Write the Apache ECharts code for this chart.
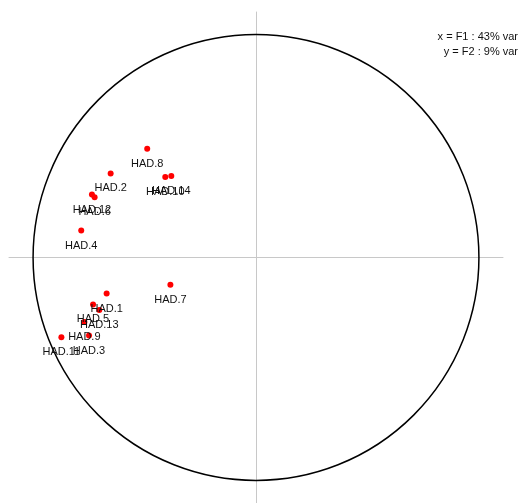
<!DOCTYPE html>
<html>
<head>
<meta charset="utf-8">
<script src="https://cdn.jsdelivr.net/npm/echarts@6/dist/echarts.min.js"></script>
<style>html,body{margin:0;padding:0;background:#fff}#c{width:519px;height:503px}</style>
</head>
<body>
<div id="c"></div>
<script>
const names = ['HAD.1','HAD.2','HAD.3','HAD.4','HAD.5','HAD.6','HAD.7','HAD.8','HAD.9','HAD.10','HAD.11','HAD.12','HAD.13','HAD.14'];
const f1 = [-0.670,-0.652,-0.749,-0.784,-0.731,-0.724,-0.384,-0.488,-0.770,-0.407,-0.873,-0.736,-0.703,-0.380];
const f2 = [-0.162,0.378,-0.351,0.121,-0.211,0.271,-0.122,0.489,-0.290,0.362,-0.359,0.283,-0.236,0.367];
const infoLines = ['x = F1 : 43% var', 'y = F2 : 9% var'];

const chart = echarts.init(document.getElementById('c'), null, {renderer:'canvas'});
const axisCommon = {
  type: 'value',
  axisLine: {show: true, onZero: true, lineStyle: {color: '#c8c8c8', width: 1}},
  axisTick: {show: false},
  axisLabel: {show: false},
  splitLine: {show: false}
};
chart.setOption({
  animation: false,
  grid: {left: 9, width: 494, top: 12, height: 492},
  xAxis: Object.assign({}, axisCommon, {min: -1.108, max: 1.108}),
  yAxis: Object.assign({}, axisCommon, {min: -1.104, max: 1.104}),
  series: [{
    type: 'scatter',
    z: 3,
    symbol: 'circle',
    symbolSize: 6,
    itemStyle: {color: '#ff0000', opacity: 1},
    data: names.map((n, i) => ({name: n, value: [f1[i], f2[i]]})),
    label: {
      show: true,
      position: 'bottom',
      distance: 6.5,
      formatter: p => p.name,
      fontSize: 11,
      fontFamily: 'Liberation Sans, Arial, sans-serif',
      color: '#111'
    }
  }]
});
const c0 = chart.convertToPixel({gridIndex: 0}, [0, 0]);
const c1 = chart.convertToPixel({gridIndex: 0}, [1, 0]);
const r = c1[0] - c0[0];
chart.setOption({
  graphic: [
    {type: 'circle', z: 1, silent: true, shape: {cx: c0[0], cy: c0[1], r: r},
     style: {fill: 'none', stroke: '#000', lineWidth: 1.5}},
    {type: 'text', right: 1, top: 31, z: 5,
     style: {text: infoLines[0], fontSize: 11, fontFamily: 'Liberation Sans, Arial, sans-serif', fill: '#111', textAlign: 'right'}},
    {type: 'text', right: 1, top: 46, z: 5,
     style: {text: infoLines[1], fontSize: 11, fontFamily: 'Liberation Sans, Arial, sans-serif', fill: '#111', textAlign: 'right'}}
  ]
});
</script>
</body>
</html>
